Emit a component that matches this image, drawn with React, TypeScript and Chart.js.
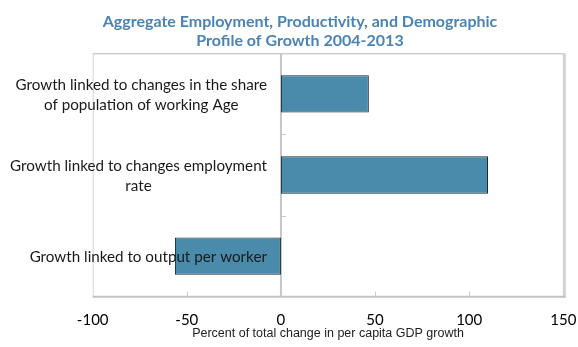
import React, { useEffect, useRef } from "react";
import { Chart, registerables } from "chart.js";

Chart.register(...registerables);

const titleLines = [
  "Aggregate Employment, Productivity, and Demographic",
  "Profile of Growth 2004-2013",
];
const categoryLines = [
  ["Growth linked to changes in the share", "of population of working Age"],
  ["Growth linked to changes employment", "rate"],
  ["Growth linked to output per worker"],
];
const values = [46.7, 110, -56.3];
const xMin = -100;
const xMax = 150;
const xStep = 50;
const xAxisTitle = "Percent of total change in per capita GDP growth";

const OFFSET_X = 10;

const framePlugin = {
  id: "frame",
  beforeDatasetsDraw(chart: any) {
    const { ctx, chartArea: a, scales } = chart;
    const x = scales.x;
    const y = scales.y;
    const line = (x1: number, y1: number, x2: number, y2: number, color: string, w: number) => {
      ctx.beginPath();
      ctx.strokeStyle = color;
      ctx.lineWidth = w;
      ctx.moveTo(x1, y1);
      ctx.lineTo(x2, y2);
      ctx.stroke();
    };
    ctx.save();
    const xl = x.getPixelForValue(xMin);
    const xr = x.getPixelForValue(xMax);
    const x0 = x.getPixelForValue(0);
    line(xl, a.top + 0.5, xr, a.top + 0.5, "#b8b8b8", 1);
    line(xl + 0.5, a.top, xl + 0.5, a.bottom, "#d4d4d4", 1);
    line(xr + 1, a.top, xr + 1, a.bottom + 1, "#d2d2d2", 3);
    line(x0, a.top, x0, a.bottom, "#c6c6c6", 2);
    line(xl, a.bottom, xr + 2, a.bottom, "#c2c2c2", 2);
    x.ticks.forEach((t: any) => {
      if (t.value > xMin && t.value < xMax && t.value !== 0) {
        const px = Math.round(x.getPixelForValue(t.value)) + 0.5;
        line(px, a.bottom, px, a.bottom - 5, "#c8c8c8", 1);
      }
    });
    for (let i = 1; i < categoryLines.length; i++) {
      const py = Math.round((y.getPixelForValue(i - 1) + y.getPixelForValue(i)) / 2) + 0.5;
      line(x0, py, x0 + 5, py, "#c6c6c6", 1);
    }
    ctx.restore();
  },
  afterDatasetsDraw(chart: any) {
    const { ctx, scales } = chart;
    const x = scales.x;
    const y = scales.y;
    ctx.save();
    // category labels next to the zero axis
    ctx.font = "15.2px Lato";
    ctx.fillStyle = "#1a1a1a";
    ctx.textAlign = "center";
    ctx.textBaseline = "middle";
    const right = x.getPixelForValue(0) - 14;
    const lineH = 20.5;
    categoryLines.forEach((lines, i) => {
      const widest = Math.max(...lines.map((l) => ctx.measureText(l).width));
      const cx = right - widest / 2;
      const cy = y.getPixelForValue(i) + 1;
      lines.forEach((l, j) => {
        ctx.fillText(l, cx, cy + (j - (lines.length - 1) / 2) * lineH);
      });
    });
    // chart title
    ctx.font = "bold 16px Lato";
    ctx.fillStyle = "#4a84b6";
    titleLines.forEach((t, j) => {
      ctx.fillText(t, 300 - OFFSET_X, 21.7 + j * 19.3);
    });
    ctx.restore();
  },
};

export default function App() {
  const canvasRef = useRef<HTMLCanvasElement | null>(null);

  useEffect(() => {
    if (!canvasRef.current) return;
    const chart = new Chart(canvasRef.current, {
      type: "bar",
      data: {
        labels: categoryLines.map((l) => l.join(" ")),
        datasets: [
          {
            data: values,
            backgroundColor: "#4a8bab",
            borderColor: "#1c2b33",
            borderWidth: 1,
            borderSkipped: false,
            barPercentage: 0.46,
            categoryPercentage: 1,
          },
        ],
      },
      options: {
        indexAxis: "y",
        responsive: true,
        maintainAspectRatio: false,
        animation: false,
        layout: {
          padding: { left: 92.7 - OFFSET_X, right: 578 - 563.3, top: 53.3, bottom: 0 },
        },
        plugins: {
          legend: { display: false },
          tooltip: { enabled: false },
          title: { display: false },
        },
        scales: {
          x: {
            type: "linear",
            min: xMin,
            max: xMax,
            grid: { display: false, drawTicks: false },
            border: { display: false },
            ticks: {
              stepSize: xStep,
              padding: 14,
              color: "#000",
              font: { family: "Lato", size: 15 },
              maxRotation: 0,
              autoSkip: false,
            },
            title: {
              display: true,
              text: xAxisTitle,
              color: "#222",
              font: { family: "Liberation Sans", size: 12.5 },
              padding: { top: 0, bottom: 6 },
            },
            afterFit: (scale: any) => {
              scale.paddingLeft = 0;
              scale.paddingRight = 0;
              scale.height = 347 - 296.7;
            },
          },
          y: {
            type: "category",
            display: false,
          },
        },
      },
      plugins: [framePlugin],
    });
    return () => chart.destroy();
  }, []);

  return (
    <div
      style={{
        position: "absolute",
        left: OFFSET_X,
        top: 0,
        width: 578 - OFFSET_X,
        height: 347,
      }}
    >
      <canvas ref={canvasRef} />
    </div>
  );
}
